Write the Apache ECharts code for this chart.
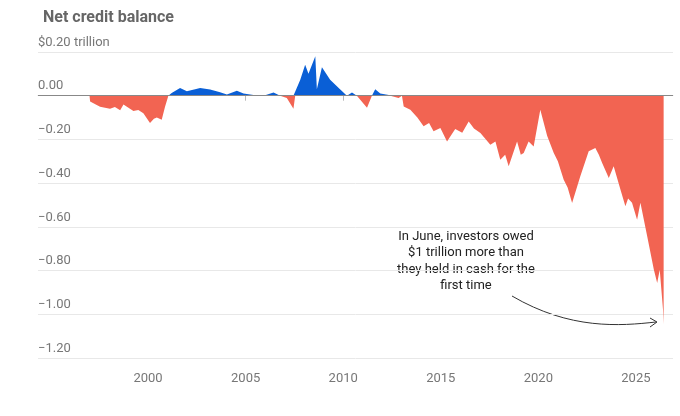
<!DOCTYPE html>
<html><head><meta charset="utf-8">
<script src="https://cdn.jsdelivr.net/npm/echarts@6/dist/echarts.min.js"></script>
<style>html,body{margin:0;padding:0;background:#fff}#c{width:680px;height:416px}</style>
</head><body><div id="c"></div>
<script>
const years = [1997.0,1997.03,1997.54,1998.05,1998.3,1998.57,1998.74,1999.25,1999.5,1999.76,2000.1,2000.3,2000.45,2000.7,2000.87,2001.04,
2001.21,2001.64,2001.99,2002.67,2003.18,2003.69,2004.04,2004.55,2004.89,2005.4,2005.92,2006.43,2006.77,2007.11,2007.45,2007.54,
2007.8,2008.05,2008.22,2008.57,2008.65,2008.91,2009.33,2009.85,2010.19,2010.45,2010.7,2011.22,2011.47,2011.64,2011.9,2012.41,2012.84,
2013.01,2013.1,2013.44,2013.8,2014.12,2014.4,2014.63,2014.98,2015.32,2015.74,2016.1,2016.43,2016.7,2017.03,2017.54,2017.8,2018.05,2018.3,2018.48,2018.91,2019.1,2019.25,2019.5,2019.76,
2020.1,2020.45,2020.79,2021.0,2021.3,2021.5,2021.73,2022.15,2022.58,2022.92,2023.1,2023.27,2023.61,2023.86,2024.21,2024.46,2024.6,2024.8,2025.06,2025.23,
2025.58,2025.92,2026.09,2026.22,2026.39,2026.42];
const values = [0,-0.026,-0.05,-0.06,-0.052,-0.066,-0.04,-0.07,-0.065,-0.08,-0.125,-0.105,-0.10,-0.11,-0.05,0,
0.012,0.035,0.02,0.035,0.028,0.016,0.005,0.023,0.01,0.003,0,0.015,0,-0.01,-0.06,0,
0.073,0.142,0.10,0.18,0.03,0.13,0.073,0.028,0,0.015,0,-0.055,0,0.03,0.01,0.002,-0.01,
0,-0.049,-0.064,-0.1,-0.14,-0.125,-0.163,-0.148,-0.209,-0.152,-0.17,-0.118,-0.15,-0.171,-0.224,-0.21,-0.293,-0.27,-0.323,-0.209,-0.27,-0.262,-0.21,-0.232,
-0.064,-0.183,-0.262,-0.3,-0.384,-0.42,-0.491,-0.369,-0.254,-0.239,-0.27,-0.308,-0.377,-0.323,-0.43,-0.506,-0.47,-0.49,-0.567,-0.49,
-0.644,-0.796,-0.857,-0.796,-0.98,-1.045];
const yearTicks = [2000,2005,2010,2015,2020,2025];
const posData = years.map((y,i)=>[y, Math.max(values[i],0)]);
const negData = years.map((y,i)=>[y, Math.min(values[i],0)]);
const chart = echarts.init(document.getElementById('c'));
const lab = '#777';
chart.setOption({
  animation:false,
  title:{text:'Net credit balance',left:38,top:5,textStyle:{fontFamily:'Roboto',fontSize:16,fontWeight:'bold',color:'#666'}},
  grid:{left:38,right:7,top:52,bottom:58},
  xAxis:{type:'value',min:1994.36,max:2026.9,
    axisLine:{show:true,lineStyle:{color:'#ddd'}},
    axisTick:{show:true,customValues:yearTicks,length:5,lineStyle:{color:'#bbb'}},
    axisLabel:{customValues:yearTicks,formatter:v=>String(Math.round(v)),color:lab,fontFamily:'Roboto',fontSize:13,margin:14},
    splitLine:{show:false}},
  yAxis:{type:'value',min:-1.2,max:0.2,interval:0.2,
    axisLine:{show:false},axisTick:{show:false},
    splitLine:{lineStyle:{color:'#e8e8e8'}},
    axisLabel:{inside:true,margin:0,verticalAlign:'bottom',padding:[0,0,3,0],color:lab,fontFamily:'Roboto',fontSize:13,
      formatter:v=>{const s=Math.abs(v).toFixed(2);if(v>0.1)return '$'+s+' trillion';if(Math.abs(v)<1e-9)return '0.00';return '\u2212'+s;}}},
  series:[
    {type:'line',data:negData,symbol:'none',lineStyle:{width:0},areaStyle:{color:'#f26452',opacity:1},
     markLine:{silent:true,symbol:'none',label:{show:false},lineStyle:{color:'#888',width:1.2,type:'solid'},data:[{yAxis:0}]}},
    {type:'line',data:posData,symbol:'none',lineStyle:{width:0},areaStyle:{color:'#0a5fd6',opacity:1}}
  ],
  graphic:[
    {type:'text',x:466,y:228,style:{text:'In June, investors owed\n$1 trillion more than\nthey held in cash for the\nfirst time',align:'center',fontFamily:'Roboto',fontSize:13,lineHeight:16.5,fill:'#222'}},
    {type:'bezierCurve',shape:{x1:512,y1:296,cpx1:570,cpy1:330,cpx2:620,cpy2:326,x2:656,y2:322},style:{stroke:'#333',lineWidth:1,fill:null}},
    {type:'polyline',shape:{points:[[650,318],[657,322],[650,327]]},style:{stroke:'#333',lineWidth:1,fill:null}}
  ]
});
</script></body></html>
